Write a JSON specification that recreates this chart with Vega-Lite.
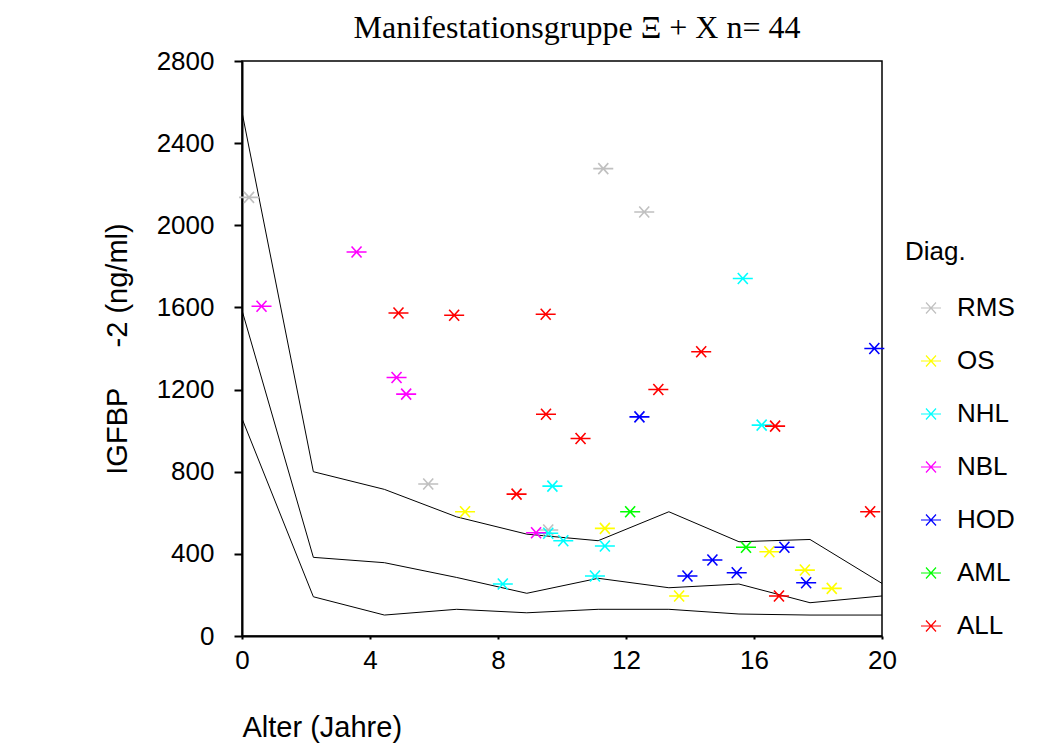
{
  "$schema": "https://vega.github.io/schema/vega-lite/v6.json",
  "autosize": {"type": "none"},
  "padding": {"left": 242, "top": 61, "right": 167, "bottom": 120},
  "width": 640,
  "height": 575,
  "background": "white",
  "title": {
    "text": "Manifestationsgruppe Ξ + X n= 44",
    "font": "Liberation Serif",
    "fontSize": 32,
    "fontWeight": "normal",
    "color": "black",
    "offset": 3,
    "dx": 15
  },
  "config": {
    "view": {"stroke": "black", "strokeWidth": 1.5},
    "axis": {
      "grid": false,
      "labelFont": "Liberation Sans",
      "titleFont": "Liberation Sans",
      "labelFontSize": 26,
      "titleFontSize": 29,
      "labelColor": "black",
      "titleColor": "black",
      "titleFontWeight": "normal",
      "domainColor": "black",
      "domainWidth": 2,
      "tickColor": "black",
      "tickWidth": 2,
      "labelFlush": false
    },
    "legend": {
      "labelFont": "Liberation Sans",
      "titleFont": "Liberation Sans"
    }
  },
  "datasets": {
    "refs": [
      {"age": 0, "value": 2551, "curve": "upper"},
      {"age": 2.23, "value": 800, "curve": "upper"},
      {"age": 4.45, "value": 714, "curve": "upper"},
      {"age": 6.71, "value": 580, "curve": "upper"},
      {"age": 8.9, "value": 496, "curve": "upper"},
      {"age": 11.13, "value": 464, "curve": "upper"},
      {"age": 13.34, "value": 605, "curve": "upper"},
      {"age": 15.53, "value": 459, "curve": "upper"},
      {"age": 17.75, "value": 470, "curve": "upper"},
      {"age": 20, "value": 256, "curve": "upper"},
      {"age": 0, "value": 1586, "curve": "middle"},
      {"age": 2.23, "value": 383, "curve": "middle"},
      {"age": 4.45, "value": 357, "curve": "middle"},
      {"age": 6.71, "value": 285, "curve": "middle"},
      {"age": 8.9, "value": 208, "curve": "middle"},
      {"age": 11.13, "value": 281, "curve": "middle"},
      {"age": 13.34, "value": 235, "curve": "middle"},
      {"age": 15.53, "value": 253, "curve": "middle"},
      {"age": 17.75, "value": 162, "curve": "middle"},
      {"age": 20, "value": 195, "curve": "middle"},
      {"age": 0, "value": 1059, "curve": "lower"},
      {"age": 2.23, "value": 191, "curve": "lower"},
      {"age": 4.45, "value": 102, "curve": "lower"},
      {"age": 6.71, "value": 130, "curve": "lower"},
      {"age": 8.9, "value": 113, "curve": "lower"},
      {"age": 11.13, "value": 130, "curve": "lower"},
      {"age": 13.34, "value": 130, "curve": "lower"},
      {"age": 15.53, "value": 107, "curve": "lower"},
      {"age": 17.75, "value": 102, "curve": "lower"},
      {"age": 20, "value": 102, "curve": "lower"}
    ],
    "points": [
      {"age": 0.22, "igfbp": 2136, "diag": "RMS"},
      {"age": 11.29, "igfbp": 2276, "diag": "RMS"},
      {"age": 12.57, "igfbp": 2065, "diag": "RMS"},
      {"age": 5.82, "igfbp": 740, "diag": "RMS"},
      {"age": 9.57, "igfbp": 516, "diag": "RMS"},
      {"age": 6.97, "igfbp": 605, "diag": "OS"},
      {"age": 11.34, "igfbp": 524, "diag": "OS"},
      {"age": 13.66, "igfbp": 195, "diag": "OS"},
      {"age": 16.48, "igfbp": 410, "diag": "OS"},
      {"age": 17.59, "igfbp": 321, "diag": "OS"},
      {"age": 18.43, "igfbp": 232, "diag": "OS"},
      {"age": 15.65, "igfbp": 1741, "diag": "NHL"},
      {"age": 16.24, "igfbp": 1027, "diag": "NHL"},
      {"age": 9.7, "igfbp": 730, "diag": "NHL"},
      {"age": 10.04, "igfbp": 464, "diag": "NHL"},
      {"age": 11.34, "igfbp": 438, "diag": "NHL"},
      {"age": 11.03, "igfbp": 292, "diag": "NHL"},
      {"age": 8.15, "igfbp": 253, "diag": "NHL"},
      {"age": 9.57, "igfbp": 500, "diag": "NHL"},
      {"age": 3.58, "igfbp": 1870, "diag": "NBL"},
      {"age": 0.61, "igfbp": 1606, "diag": "NBL"},
      {"age": 4.83, "igfbp": 1259, "diag": "NBL"},
      {"age": 5.13, "igfbp": 1178, "diag": "NBL"},
      {"age": 9.19, "igfbp": 503, "diag": "NBL"},
      {"age": 19.76, "igfbp": 1400, "diag": "HOD"},
      {"age": 12.42, "igfbp": 1067, "diag": "HOD"},
      {"age": 16.95, "igfbp": 432, "diag": "HOD"},
      {"age": 14.7, "igfbp": 370, "diag": "HOD"},
      {"age": 13.92, "igfbp": 292, "diag": "HOD"},
      {"age": 15.46, "igfbp": 308, "diag": "HOD"},
      {"age": 17.63, "igfbp": 259, "diag": "HOD"},
      {"age": 12.13, "igfbp": 605, "diag": "AML"},
      {"age": 15.75, "igfbp": 432, "diag": "AML"},
      {"age": 4.89, "igfbp": 1573, "diag": "ALL"},
      {"age": 6.63, "igfbp": 1562, "diag": "ALL"},
      {"age": 9.49, "igfbp": 1567, "diag": "ALL"},
      {"age": 14.35, "igfbp": 1384, "diag": "ALL"},
      {"age": 13.01, "igfbp": 1200, "diag": "ALL"},
      {"age": 9.5, "igfbp": 1080, "diag": "ALL"},
      {"age": 16.66, "igfbp": 1022, "diag": "ALL"},
      {"age": 10.58, "igfbp": 962, "diag": "ALL"},
      {"age": 8.58, "igfbp": 691, "diag": "ALL"},
      {"age": 16.78, "igfbp": 195, "diag": "ALL"},
      {"age": 19.63, "igfbp": 605, "diag": "ALL"}
    ]
  },
  "layer": [
    {
      "data": {"name": "refs"},
      "mark": {"type": "line", "color": "black", "strokeWidth": 1, "clip": true},
      "encoding": {
        "x": {"field": "age", "type": "quantitative"},
        "y": {"field": "value", "type": "quantitative"},
        "detail": {"field": "curve"}
      }
    },
    {
      "data": {"name": "points"},
      "mark": {
        "type": "point",
        "filled": false,
        "shape": "M-1,0L1,0M-0.5,-0.55L0.5,0.55M-0.5,0.55L0.5,-0.55",
        "size": 400,
        "strokeWidth": 1.6,
        "opacity": 1
      },
      "encoding": {
        "x": {
          "field": "age",
          "type": "quantitative",
          "scale": {"domain": [0, 20], "nice": false},
          "axis": {
            "values": [0, 4, 8, 12, 16, 20],
            "format": "d",
            "tickSize": 3,
            "labelPadding": 8,
            "title": "Alter (Jahre)",
            "titleAnchor": "start",
            "titleAlign": "left",
            "titlePadding": 40
          }
        },
        "y": {
          "field": "igfbp",
          "type": "quantitative",
          "scale": {"domain": [0, 2800], "nice": false},
          "axis": {
            "values": [0, 400, 800, 1200, 1600, 2000, 2400, 2800],
            "format": "d",
            "tickSize": 8,
            "labelPadding": 20,
            "title": "IGFBP\u00a0\u00a0\u00a0\u00a0\u00a0-2 (ng/ml)",
            "titlePadding": 24
          }
        },
        "color": {
          "field": "diag",
          "type": "nominal",
          "scale": {
            "domain": ["RMS", "OS", "NHL", "NBL", "HOD", "AML", "ALL"],
            "range": ["#c0c0c0", "#ffff00", "#00ffff", "#ff00ff", "#0000ff", "#00ff00", "#ff0000"]
          },
          "legend": {
            "title": "Diag.",
            "orient": "none",
            "legendX": 663,
            "legendY": 178,
            "titleFontSize": 26,
            "titleFontWeight": "normal",
            "titleColor": "black",
            "titlePadding": 30,
            "labelFontSize": 26,
            "labelColor": "black",
            "symbolType": "M-1,0L1,0M-0.5,-0.55L0.5,0.55M-0.5,0.55L0.5,-0.55",
            "symbolSize": 400,
            "symbolStrokeWidth": 1.2,
            "symbolOffset": 13,
            "labelOffset": 13,
            "rowPadding": 27
          }
        }
      }
    }
  ]
}
